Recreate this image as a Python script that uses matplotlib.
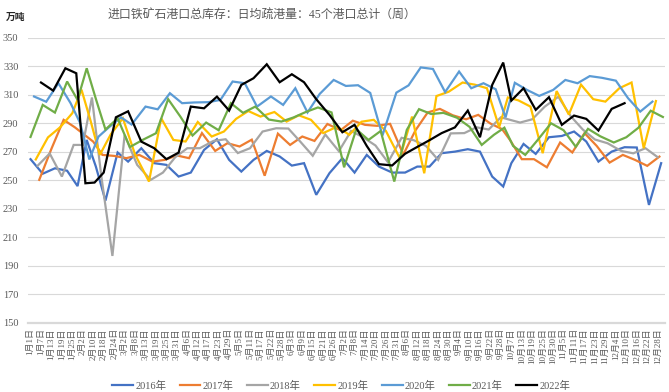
import matplotlib
matplotlib.use("Agg")
import matplotlib.pyplot as plt
import numpy as np
import pandas as pd

SERIF_CJK = ["Liberation Serif", "Noto Sans CJK SC"]
plt.rcParams["font.family"] = SERIF_CJK

TITLE = "进口铁矿石港口总库存：日均疏港量：45个港口总计（周）"
UNIT = "万吨"

# category labels on the x axis (every 6th category of the merged date list)
X_LABELS = [
    "1月1日", "1月7日", "1月13日", "1月19日", "1月25日", "2月2日", "2月10日",
    "2月18日", "2月24日", "3月2日", "3月8日", "3月13日", "3月19日", "3月25日",
    "3月31日", "4月6日", "4月12日", "4月17日", "4月23日", "4月29日", "5月5日",
    "5月11日", "5月17日", "5月22日", "5月28日", "6月3日", "6月9日", "6月15日",
    "6月21日", "6月26日", "7月2日", "7月8日", "7月14日", "7月20日", "7月26日",
    "7月31日", "8月6日", "8月12日", "8月18日", "8月24日", "8月30日", "9月4日",
    "9月10日", "9月16日", "9月22日", "9月28日", "10月7日", "10月13日",
    "10月19日", "10月25日", "10月30日", "11月5日", "11月11日", "11月17日",
    "11月23日", "11月29日", "12月4日", "12月10日", "12月16日", "12月22日",
    "12月28日",
]

YEARS = ["2016年", "2017年", "2018年", "2019年", "2020年", "2021年", "2022年"]
FIRST_FRIDAY = ["2016-01-01", "2017-01-06", "2018-01-05", "2019-01-04",
                "2020-01-03", "2021-01-01", "2022-01-07"]

v2016 = [264.7, 254.5, 258.3, 256.6, 245.8, 278.2, 259.5, 235.6, 269.4, 263.0,
         272.4, 261.9, 260.7, 252.5, 255.3, 271.2, 278.7, 264.2, 256.0, 264.2,
         270.5, 266.6, 260.2, 261.9, 239.7, 254.9, 265.4, 255.3, 267.7, 259.5,
         255.3, 255.3, 259.5, 259.5, 268.9, 270.0, 271.7, 270.0, 252.5, 245.5,
         261.9, 275.4, 268.4, 280.1, 281.0, 284.1, 277.1, 263.0, 270.0, 273.1,
         272.9, 232.6, 261.9]
v2017 = [250.2, 272.0, 292.3, 287.0, 282.0, 277.0, 267.7, 267.0, 265.4, 267.7,
         263.0, 264.2, 267.3, 265.4, 283.0, 270.5, 275.9, 273.6, 278.4, 253.1,
         282.6, 274.7, 280.6, 277.5, 289.4, 285.0, 291.7, 288.8, 288.1, 289.5,
         268.0, 285.0, 297.5, 300.0, 295.5, 292.7, 295.8, 289.7, 285.8, 278.0,
         264.7, 264.7, 259.0, 276.4, 269.4, 283.0, 274.0, 262.3, 267.7, 264.2,
         260.0, 266.5]
v2018 = [260.0, 268.7, 252.5, 274.7, 274.7, 308.0, 254.0, 196.8, 281.7, 260.7,
         250.2, 255.3, 266.0, 272.4, 272.4, 277.5, 278.7, 269.0, 272.4, 284.1,
         286.4, 286.2, 276.8, 267.1, 282.0, 270.3, 284.5, 280.0, 274.3, 262.5,
         279.7, 278.0, 274.0, 264.2, 282.8, 283.0, 287.1, 285.5, 294.1, 292.5,
         290.4, 292.7, 301.6, 308.5, 295.0, 285.5, 278.5, 275.9, 270.5, 268.8,
         272.4, 266.1]
v2019 = [264.5, 280.0, 287.1, 297.0, 313.5, 291.5, 267.7, 282.0, 293.4, 268.0,
         249.0, 293.4, 278.2, 277.1, 290.8, 280.6, 284.1, 293.0, 298.5, 294.6,
         297.8, 291.1, 295.5, 292.3, 283.0, 287.5, 281.8, 291.0, 292.3, 284.5,
         265.4, 294.6, 254.8, 309.0, 312.0, 318.5, 317.0, 314.5, 287.1, 308.0,
         306.0, 301.6, 268.9, 312.5, 296.0, 317.0, 306.8, 305.1, 314.5, 318.5,
         272.4, 305.5]
v2020 = [308.7, 305.0, 318.0, 304.0, 290.0, 264.5, 280.5, 287.1, 294.0, 289.0,
         301.6, 299.7, 311.0, 304.0, 304.5, 304.7, 306.3, 319.2, 318.0, 301.6,
         308.7, 302.8, 314.5, 297.5, 310.5, 320.3, 316.1, 316.6, 311.2, 281.3,
         311.4, 316.5, 329.1, 328.0, 311.8, 326.2, 314.5, 318.0, 313.8, 294.0,
         318.3, 313.3, 309.1, 313.3, 320.3, 318.0, 323.0, 321.8, 319.8, 307.5,
         298.1, 305.1]
v2021 = [280.3, 302.8, 297.4, 319.2, 306.3, 328.5, 307.0, 285.5, 293.4, 273.2,
         278.5, 282.9, 306.8, 294.6, 281.3, 290.4, 285.0, 304.0, 297.2, 301.6,
         292.5, 291.1, 294.0, 297.8, 301.0, 297.5, 259.0, 285.7, 278.2, 284.5,
         249.0, 285.3, 299.8, 296.4, 297.2, 293.8, 287.4, 274.7, 281.8, 286.8,
         274.0, 267.7, 278.0, 289.9, 285.0, 273.4, 286.0, 280.8, 276.4, 280.1,
         286.8, 298.7, 294.3]
v2022 = [318.5, 312.8, 328.5, 325.0, 247.8, 248.3, 255.3, 294.1, 298.3, 277.0,
         272.4, 264.7, 269.3, 301.6, 300.4, 308.6, 298.8, 316.8, 321.5, 331.3,
         318.7, 324.3, 318.7, 306.8, 295.8, 283.6, 288.8, 274.0, 261.2, 260.3,
         268.5, 273.3, 278.0, 283.0, 287.0, 298.8, 280.1, 316.8, 332.5, 305.8,
         314.5, 299.3, 308.2, 288.8, 295.3, 293.0, 284.8, 300.0, 304.0]
VALUES = [v2016, v2017, v2018, v2019, v2020, v2021, v2022]

COLORS = ["#4472C4", "#ED7D31", "#A5A5A5", "#FFC000", "#5B9BD5", "#70AD47", "#000000"]
GREY_TXT = "#595959"
GRID = "#D9D9D9"


def label_doy(lbl):
    m, d = lbl.replace("日", "").split("月")
    return pd.Timestamp(2022, int(m), int(d)).dayofyear


ANCHOR_DOY = np.array([label_doy(s) for s in X_LABELS])
ANCHOR_POS = np.arange(len(X_LABELS)) * 6.0


def to_cat(dates):
    """month-day -> position on the merged category axis"""
    doy = np.array([pd.Timestamp(2022, d.month, d.day).dayofyear for d in dates])
    pos = np.interp(doy, ANCHOR_DOY, ANCHOR_POS)
    return pos + np.clip(doy - ANCHOR_DOY[-1], 0, None)


fig = plt.figure(figsize=(6.69, 3.92), dpi=100)
ax = fig.add_axes([0.042, 0.177, 0.952, 0.727])

for name, start, vals, col in zip(YEARS, FIRST_FRIDAY, VALUES, COLORS):
    dates = pd.date_range(start, periods=len(vals), freq="7D")
    ax.plot(to_cat(dates), vals, color=col, lw=1.6, label=name,
            solid_joinstyle="miter")

ax.set_ylim(150, 350)
ax.set_yticks(np.arange(150, 351, 20))
ax.set_xlim(-1.4, 364.2)
ax.set_xticks(ANCHOR_POS)
ax.set_xticklabels(X_LABELS, rotation=90, fontsize=6.5, color=GREY_TXT)
ax.tick_params(axis="y", labelsize=7.5, labelcolor=GREY_TXT, length=0, pad=7)
ax.tick_params(axis="x", length=0, pad=4)
ax.grid(axis="y", color=GRID, lw=0.8)
ax.set_axisbelow(True)
for s in ["top", "right", "left"]:
    ax.spines[s].set_visible(False)
ax.spines["bottom"].set_color(GRID)
ax.spines["bottom"].set_linewidth(1.6)

fig.text(0.392, 0.962, TITLE, ha="center", va="center", fontsize=8.6,
         color=GREY_TXT)
fig.text(0.008, 0.955, UNIT, ha="left", va="center", fontsize=7,
         fontweight="bold", color="#262626")

fig.legend(loc="center", bbox_to_anchor=(0.51, 0.016), ncol=7, frameon=False,
           fontsize=7.5, labelcolor=GREY_TXT, handlelength=2.0,
           handletextpad=0.2, columnspacing=1.3)

fig.savefig("out.png", dpi=100)
